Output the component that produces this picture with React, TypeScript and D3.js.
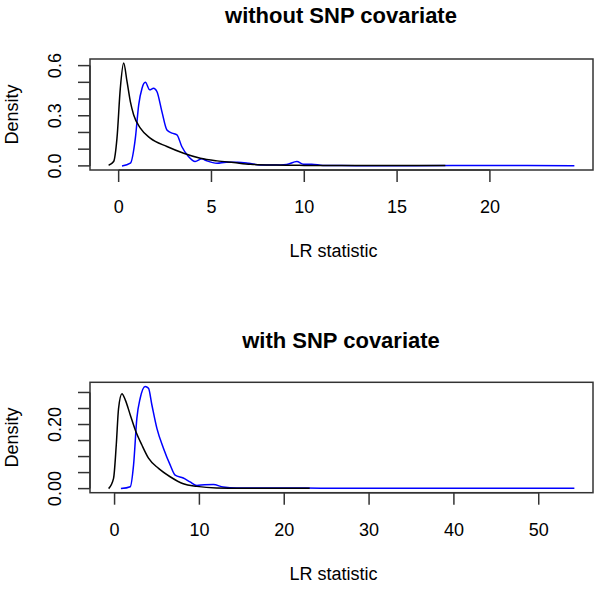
import React, { useEffect, useRef } from 'react';
import * as d3 from 'd3';

// top panel: without SNP covariate
const topBlackX = [-0.54, -0.27, -0.09, 0.09, 0.27, 0.45, 0.63, 0.81, 1.17, 1.7, 2.6, 3.5, 4.4, 5.3, 6.2, 7.1, 8.5, 10, 12, 14, 16, 17.6];
const topBlackY = [0.004, 0.026, 0.166, 0.465, 0.615, 0.505, 0.385, 0.305, 0.226, 0.166, 0.116, 0.076, 0.046, 0.03, 0.02, 0.01, 0.005, 0.003, 0.002, 0.002, 0.002, 0.002];
const topBlueX = [0.18, 0.63, 0.9, 1.08, 1.26, 1.44, 1.67, 1.88, 2.06, 2.33, 2.6, 2.87, 3.14, 3.4, 3.76, 4.12, 4.48, 4.75, 5.3, 5.8, 6.4, 7.0, 7.6, 8.4, 9.05, 9.6, 9.95, 10.4, 11.0, 12, 14, 16, 18, 20, 22, 24.55];
const topBlueY = [0, 0.016, 0.166, 0.365, 0.465, 0.5, 0.455, 0.465, 0.445, 0.325, 0.215, 0.196, 0.186, 0.116, 0.056, 0.026, 0.042, 0.03, 0.016, 0.022, 0.022, 0.016, 0.006, 0.005, 0.008, 0.026, 0.01, 0.01, 0.003, 0.002, 0.001, 0.001, 0.002, 0.003, 0.002, 0.001];
const topXTicks = [0, 5, 10, 15, 20];
const topYTicks = [0, 0.1, 0.2, 0.3, 0.4, 0.5, 0.6];
const topYLabels = ['0.0', '', '', '0.3', '', '', '0.6'];

// bottom panel: with SNP covariate
const botBlackX = [-0.7, -0.12, 0.2, 0.47, 0.87, 1.26, 1.85, 2.44, 3.22, 4.0, 5.18, 6.55, 8.1, 9.7, 12, 15, 18, 23];
const botBlackY = [0, 0.032, 0.136, 0.25, 0.296, 0.277, 0.23, 0.183, 0.136, 0.095, 0.063, 0.037, 0.015, 0.007, 0.002, 0.001, 0.001, 0.001];
const botBlueX = [0.75, 1.85, 2.24, 2.63, 3.02, 3.6, 4.0, 4.4, 4.99, 5.76, 6.55, 7.14, 8.1, 8.9, 9.7, 10.6, 11.65, 12.8, 14.4, 17, 20, 22.6, 26, 30, 35, 40, 45, 50, 54.2];
const botBlueY = [0, 0.006, 0.074, 0.22, 0.282, 0.319, 0.313, 0.261, 0.188, 0.126, 0.074, 0.042, 0.033, 0.021, 0.01, 0.012, 0.0125, 0.005, 0.002, 0.002, 0.002, 0.002, 0.001, 0.001, 0.001, 0.001, 0.001, 0.001, 0.001];
const botXTicks = [0, 10, 20, 30, 40, 50];
const botYTicks = [0, 0.05, 0.1, 0.15, 0.2, 0.25, 0.3];
const botYLabels = ['0.00', '', '', '', '0.20', '', ''];

const FONT = 'Liberation Sans, Arial, Helvetica, sans-serif';

type Curve = { xs: number[]; ys: number[]; color: string };

interface PanelSpec {
  title: string;
  top: number;
  bottom: number;
  titleY: number;
  curves: Curve[];
  xTicks: number[];
  yTicks: number[];
  yLabels: string[];
}

const App: React.FC = () => {
  const svgRef = useRef<SVGSVGElement>(null);

  useEffect(() => {
    if (!svgRef.current) return;
    const svg = d3.select(svgRef.current);
    svg.selectAll('*').remove();

    const panels: PanelSpec[] = [
      {
        title: 'without SNP covariate', top: 59, bottom: 170, titleY: 23,
        curves: [
          { xs: topBlueX, ys: topBlueY, color: '#0000ff' },
          { xs: topBlackX, ys: topBlackY, color: '#000' },
        ],
        xTicks: topXTicks, yTicks: topYTicks, yLabels: topYLabels,
      },
      {
        title: 'with SNP covariate', top: 382.3, bottom: 492.7, titleY: 348,
        curves: [
          { xs: botBlueX, ys: botBlueY, color: '#0000ff' },
          { xs: botBlackX, ys: botBlackY, color: '#000' },
        ],
        xTicks: botXTicks, yTicks: botYTicks, yLabels: botYLabels,
      },
    ];

    panels.forEach(p => renderPanel(svg, p));
  }, []);

  const renderPanel = (svg: d3.Selection<SVGSVGElement, unknown, null, undefined>, p: PanelSpec) => {
    const left = 90, right = 593;
    // R style 4% padding around the data range
    const allX = p.curves.flatMap(c => c.xs);
    const allY = p.curves.flatMap(c => c.ys);
    const [x0, x1] = d3.extent(allX) as [number, number];
    const [y0, y1] = d3.extent(allY) as [number, number];
    const px = (x1 - x0) * 0.04, py = (y1 - y0) * 0.04;
    const x = d3.scaleLinear().domain([x0 - px, x1 + px]).range([left, right]);
    const y = d3.scaleLinear().domain([y0 - py, y1 + py]).range([p.bottom, p.top]);

    const g = svg.append('g');

    const line = d3.line<[number, number]>()
      .x(d => x(d[0]))
      .y(d => y(d[1]))
      .curve(d3.curveMonotoneX);

    p.curves.forEach(c => {
      g.append('path')
        .datum(c.xs.map((v, i) => [v, c.ys[i]] as [number, number]))
        .attr('d', line)
        .attr('fill', 'none')
        .attr('stroke', c.color)
        .attr('stroke-width', 1.5);
    });

    // box
    g.append('rect')
      .attr('x', left).attr('y', p.top)
      .attr('width', right - left).attr('height', p.bottom - p.top)
      .attr('fill', 'none').attr('stroke', '#333').attr('stroke-width', 1.5);

    // x axis
    g.append('line')
      .attr('x1', x(p.xTicks[0])).attr('x2', x(p.xTicks[p.xTicks.length - 1]))
      .attr('y1', p.bottom).attr('y2', p.bottom)
      .attr('stroke', '#333').attr('stroke-width', 1.5);
    p.xTicks.forEach(t => {
      g.append('line')
        .attr('x1', x(t)).attr('x2', x(t))
        .attr('y1', p.bottom).attr('y2', p.bottom + 12)
        .attr('stroke', '#333').attr('stroke-width', 1.5);
      g.append('text')
        .attr('x', x(t)).attr('y', p.bottom + 43)
        .attr('text-anchor', 'middle')
        .style('font-family', FONT).style('font-size', '18px')
        .text(String(t));
    });
    g.append('text')
      .attr('x', (left + right) / 2 - 8).attr('y', p.bottom + 87)
      .attr('text-anchor', 'middle')
      .style('font-family', FONT).style('font-size', '18px')
      .text('LR statistic');

    // y axis
    g.append('line')
      .attr('x1', left).attr('x2', left)
      .attr('y1', y(p.yTicks[0])).attr('y2', y(p.yTicks[p.yTicks.length - 1]))
      .attr('stroke', '#333').attr('stroke-width', 1.5);
    p.yTicks.forEach((t, i) => {
      g.append('line')
        .attr('x1', left - 12).attr('x2', left)
        .attr('y1', y(t)).attr('y2', y(t))
        .attr('stroke', '#333').attr('stroke-width', 1.5);
      if (p.yLabels[i]) {
        g.append('text')
          .attr('transform', `translate(61,${y(t)}) rotate(-90)`)
          .attr('text-anchor', 'middle')
          .style('font-family', FONT).style('font-size', '18px')
          .text(p.yLabels[i]);
      }
    });
    g.append('text')
      .attr('transform', `translate(18,${(p.top + p.bottom) / 2}) rotate(-90)`)
      .attr('text-anchor', 'middle')
      .style('font-family', FONT).style('font-size', '18px')
      .text('Density');

    // title
    g.append('text')
      .attr('x', (left + right) / 2 - 0.5).attr('y', p.titleY)
      .attr('text-anchor', 'middle')
      .style('font-family', FONT).style('font-size', '22px').style('font-weight', 'bold')
      .text(p.title);
  };

  return (
    <svg
      ref={svgRef}
      width="600"
      height="589"
      style={{ display: 'block', position: 'absolute', left: 0, top: 0, background: '#fff' }}
    />
  );
};

export default App;
